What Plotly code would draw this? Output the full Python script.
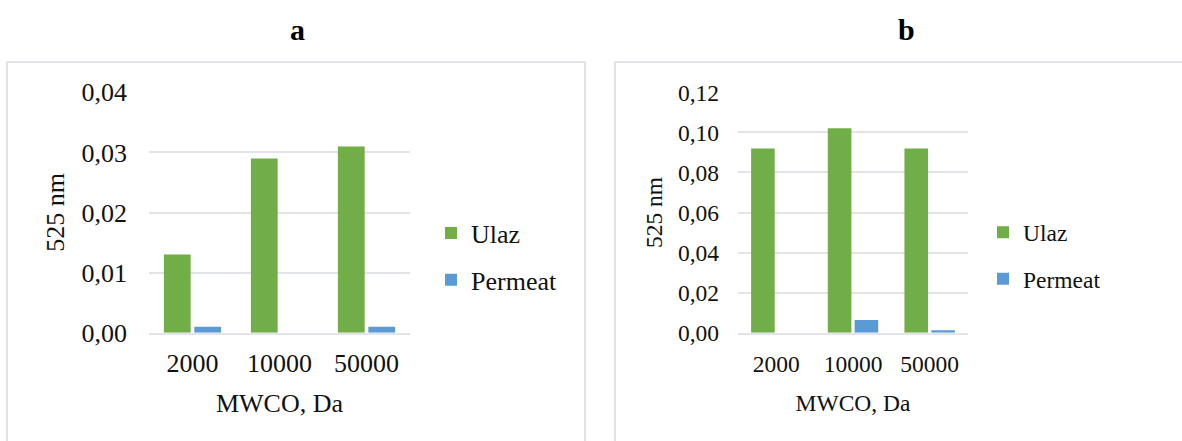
import plotly.graph_objects as go

# MWCO categories and absorbance readings at 525 nm
mwco = ["2000", "10000", "50000"]
ulaz_a = [0.013, 0.029, 0.031]
permeat_a = [0.001, 0.0, 0.001]
ulaz_b = [0.092, 0.102, 0.092]
permeat_b = [0.0, 0.0063, 0.0012]
y_ticks_a = [0.00, 0.01, 0.02, 0.03, 0.04]
y_ticks_b = [0.00, 0.02, 0.04, 0.06, 0.08, 0.10, 0.12]

W, H = 1182, 441
GREEN = "#71AE48"
BLUE = "#5B9BD5"
GRID = "#E1E4E9"
FONT = "Liberation Serif"
TXT = "#111111"


def px_x(v):
    return v / W


def px_y(v):
    return 1 - v / H


def f(size, color=TXT):
    return dict(family=FONT, size=size, color=color)


fig = go.Figure()

fig.add_trace(go.Bar(x=mwco, y=ulaz_a, name="Ulaz", marker_color=GREEN,
                     xaxis="x", yaxis="y", legend="legend", legendgroup="u"))
fig.add_trace(go.Bar(x=mwco, y=permeat_a, name="Permeat", marker_color=BLUE,
                     xaxis="x", yaxis="y", legend="legend", legendgroup="p"))
fig.add_trace(go.Bar(x=mwco, y=ulaz_b, name="Ulaz", marker_color=GREEN,
                     xaxis="x2", yaxis="y2", legend="legend2", legendgroup="u2"))
fig.add_trace(go.Bar(x=mwco, y=permeat_b, name="Permeat", marker_color=BLUE,
                     xaxis="x2", yaxis="y2", legend="legend2", legendgroup="p2"))

y_top, y_bot = px_y(92.3), px_y(332.7)

common_x = dict(type="category", showgrid=False, showline=True, linecolor=GRID,
                linewidth=2, ticks="", fixedrange=True, automargin=False)
common_y = dict(showgrid=True, gridcolor=GRID, gridwidth=2, zeroline=False,
                showline=False, ticks="", tickformat=".2f", automargin=False)

fig.update_layout(
    template="none",
    width=W, height=H,
    margin=dict(l=0, r=0, t=0, b=0),
    paper_bgcolor="white", plot_bgcolor="white",
    separators=", ",
    font=f(20),
    barmode="group", bargap=0.3, bargroupgap=0.12,
    xaxis=dict(domain=[px_x(149), px_x(410)], anchor="y",
               tickfont=f(26), ticklabelstandoff=6,
               title=dict(text="MWCO, Da", font=f(26), standoff=17),
               **common_x),
    yaxis=dict(domain=[y_bot, y_top], anchor="x", range=[0, 0.04],
               tickvals=y_ticks_a, tickfont=f(26), ticklabelstandoff=21,
               title=dict(text="525 nm", font=f(26), standoff=9),
               **common_y),
    xaxis2=dict(domain=[px_x(738), px_x(968)], anchor="y2",
                tickfont=f(23.5), ticklabelstandoff=9,
                title=dict(text="MWCO, Da", font=f(23.5), standoff=19),
                **common_x),
    yaxis2=dict(domain=[y_bot, y_top], anchor="x2", range=[0, 0.12],
                tickvals=y_ticks_b, tickfont=f(23.5), ticklabelstandoff=18,
                title=dict(text="525 nm", font=f(23.5), standoff=8),
                **common_y),
    legend=dict(x=px_x(431), y=px_y(256.5), xanchor="left", yanchor="middle",
                font=f(26), tracegroupgap=10, traceorder="grouped",
                bgcolor="rgba(0,0,0,0)"),
    legend2=dict(x=px_x(983), y=px_y(256), xanchor="left", yanchor="middle",
                 font=f(23.5), tracegroupgap=13, traceorder="grouped",
                 bgcolor="rgba(0,0,0,0)"),
    showlegend=True,
)

# Panel frames
for x0, x1 in [(7, 585), (615, 1190)]:
    fig.add_shape(type="rect", xref="paper", yref="paper",
                  x0=px_x(x0), x1=px_x(x1), y0=px_y(470), y1=px_y(62),
                  line=dict(color=GRID, width=2), fillcolor="rgba(0,0,0,0)",
                  layer="below")

# Panel letters
for label, cx in [("a", 297), ("b", 906)]:
    fig.add_annotation(text=f"<b>{label}</b>", xref="paper", yref="paper",
                       x=px_x(cx), y=px_y(30), xanchor="center", yanchor="middle",
                       showarrow=False, font=f(30, "#000"))

fig.write_html("out.html")
